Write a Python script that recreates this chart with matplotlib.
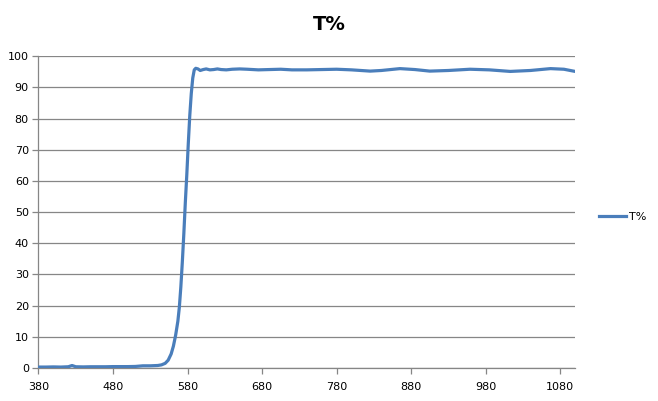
import matplotlib.pyplot as plt
from matplotlib.lines import Line2D

# Longitud de onda (nm) y transmitancia (%)
wavelength = [380, 390, 400, 410, 420, 425, 430, 440, 450, 460, 470, 480, 490,
              500, 510, 520, 530, 540, 545, 550, 554, 558, 561, 564, 567, 569,
              571, 573, 575, 577, 579, 581, 583, 585, 587, 589, 591, 594, 597,
              601, 605, 610, 615, 620, 625, 632, 640, 650, 660, 675, 690, 705,
              720, 740, 760, 780, 800, 825, 840, 865, 885, 905, 930, 959, 985,
              1013, 1040, 1067, 1085, 1100]
transmission = [0.3, 0.3, 0.35, 0.3, 0.4, 0.8, 0.4, 0.35, 0.4, 0.4, 0.4, 0.45, 0.45,
                0.45, 0.5, 0.7, 0.7, 0.8, 1.0, 1.5, 2.5, 4.5, 7.0, 10.5, 15.0, 19.5,
                26.0, 34.0, 43.0, 53.0, 62.0, 72.0, 81.0, 88.0, 93.0, 95.6, 96.1, 95.9, 95.4,
                95.7, 95.9, 95.6, 95.7, 95.9, 95.7, 95.6, 95.8, 95.9, 95.8, 95.6, 95.7, 95.8,
                95.6, 95.6, 95.7, 95.8, 95.6, 95.2, 95.4, 96.0, 95.7, 95.2, 95.4, 95.8, 95.6,
                95.1, 95.4, 96.0, 95.8, 95.1]

x_ticks = [380, 480, 580, 680, 780, 880, 980, 1080]
y_ticks = list(range(0, 101, 10))

color_linea = '#4A7EBB'
color_gris = '#868686'

fig = plt.figure(figsize=(6.58, 4.01), dpi=100)
ax = fig.add_axes([0.0585, 0.0823, 0.8155, 0.7777])

ax.plot(wavelength, transmission, color=color_linea, linewidth=2.3,
        solid_joinstyle='round', solid_capstyle='round', zorder=3)

ax.set_xlim(380, 1100)
ax.set_ylim(0, 100)
ax.set_xticks(x_ticks)
ax.set_yticks(y_ticks)

# Rejilla horizontal estilo Excel
ax.grid(axis='y', color=color_gris, linewidth=0.9)
ax.set_axisbelow(True)

for lado in ['top', 'right']:
    ax.spines[lado].set_visible(False)
for lado in ['left', 'bottom']:
    ax.spines[lado].set_color(color_gris)
    ax.spines[lado].set_linewidth(0.9)

ax.tick_params(axis='both', direction='out', length=4, width=0.9,
               color=color_gris, labelsize=8, labelcolor='black')
ax.tick_params(axis='x', pad=6)
ax.tick_params(axis='y', pad=3)

fig.text(0.5, 0.94, 'T%', ha='center', va='center', fontsize=14, fontweight='bold')

# Leyenda a la derecha
handle = Line2D([], [], color=color_linea, linewidth=2.3)
fig.legend([handle], ['T%'], loc='center left', bbox_to_anchor=(0.895, 0.46),
           frameon=False, fontsize=8, handlelength=2.4, handletextpad=0.3)

fig.savefig('out.png', dpi=100)
